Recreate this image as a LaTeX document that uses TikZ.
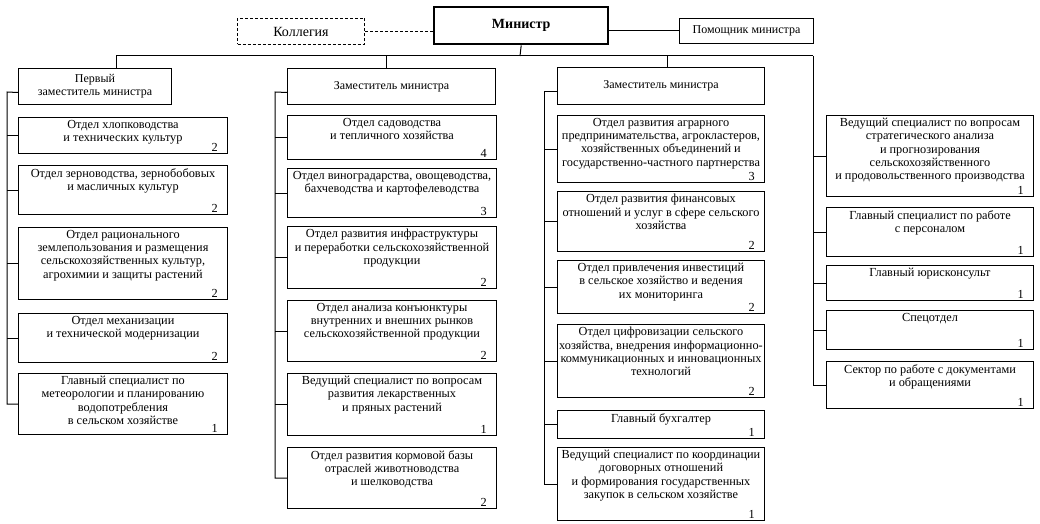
\documentclass[tikz,border=0pt]{standalone}
\usepackage{fontspec}
\setmainfont{Liberation Serif}

\begin{document}
\begin{tikzpicture}[
    x={(1pt,0pt)},
    y={(0pt,-1pt)},
    link/.style={line width=1pt},
    unitbox/.style={
        draw,
        line width=1pt,
        inner sep=0pt,
        anchor=north west
    },
    unittext/.style={
        align=center,
        inner sep=0pt,
        anchor=north,
        font=\fontsize{12.3}{13.3}\selectfont
    },
    unitnum/.style={
        inner sep=0pt,
        anchor=base east,
        font=\fontsize{12.3}{13.3}\selectfont
    },
    headbox/.style={
        unitbox,
        align=center,
        font=\fontsize{12}{13.3}\selectfont
    },
    chief/.style={
        draw,
        line width=2.4pt,
        inner sep=0pt,
        anchor=north west,
        font=\bfseries\fontsize{14}{15}\selectfont
    },
    council/.style={
        draw,
        line width=1pt,
        dashed,
        dash pattern=on 3pt off 2pt,
        inner sep=0pt,
        anchor=north west,
        font=\fontsize{14}{15}\selectfont
    }
]

\useasboundingbox (0,0) rectangle (1040,524);

% =========================================================
% Блок подразделения: имя, x, y, ширина, высота, текст, штат
% =========================================================

\def\ubox#1#2#3#4#5#6#7{%
    \node[unitbox, minimum width=#4, minimum height=#5]
        (#1) at (#2,#3) {};
    \node[unittext] (#1t) at ([yshift=-3pt]#1.north) {#6};
    \node[unitnum] (#1n) at ([xshift=-10pt,yshift=3pt]#1.south east) {#7};
}

% =========================================================
% Министр, коллегия, помощник
% =========================================================

\node[chief, minimum width=174, minimum height=37]
    (min) at (433,6) {Министр};

\node[council, minimum width=127, minimum height=26]
    (kol) at (237,18) {Коллегия};

\node[headbox, minimum width=134, minimum height=25]
    (pom) at (679,18) {Помощник министра};

\draw[link, dashed, dash pattern=on 3pt off 2pt]
    (kol.east) -- (min.west |- kol.east);
\draw[link] (min.east |- pom.west) -- (pom.west);

% =========================================================
% Общая шина
% =========================================================

\coordinate (bus0) at (520,56);
\coordinate (bus1) at (116,56);
\coordinate (bus2) at (386,56);
\coordinate (bus3) at (667,56);
\coordinate (bus4) at (813,56);

\draw[link] (min.south) -- (bus0);
\draw[link] (bus1) -- (bus4);

% =========================================================
% Заместители министра
% =========================================================

\node[headbox, minimum width=153, minimum height=36]
    (h1) at (18,68) {Первый\\заместитель министра};
\node[headbox, minimum width=208, minimum height=36]
    (h2) at (287,68) {Заместитель министра};
\node[headbox, minimum width=207, minimum height=37]
    (h3) at (557,67) {Заместитель министра};

\draw[link] (bus1) -- (bus1 |- h1.north);
\draw[link] (bus2) -- (bus2 |- h2.north);
\draw[link] (bus3) -- (bus3 |- h3.north);

% =========================================================
% Первый заместитель
% =========================================================

\ubox{a1}{18}{117}{209}{36}
    {Отдел хлопководства\\и технических культур}{2}
\ubox{a2}{18}{165}{209}{49}
    {Отдел зерноводства, зернобобовых\\и масличных культур}{2}
\ubox{a3}{18}{227}{209}{72}
    {Отдел рационального\\землепользования и размещения\\
     сельскохозяйственных культур,\\агрохимии и защиты растений}{2}
\ubox{a4}{18}{313}{209}{49}
    {Отдел механизации\\и технической модернизации}{2}
\ubox{a5}{18}{373}{209}{61}
    {Главный специалист по\\метеорологии и планированию\\
     водопотребления\\в сельском хозяйстве}{1}

\coordinate (s1) at (7,92);
\draw[link] ([yshift=-6pt]h1.west) -- (s1) -- (s1 |- a5.west) -- (a5.west);
\foreach \u in {a1,a2,a3,a4}
    \draw[link] (s1 |- \u.west) -- (\u.west);

% =========================================================
% Заместитель министра (второй столбец)
% =========================================================

\ubox{b1}{287}{115}{209}{44}
    {Отдел садоводства\\и тепличного хозяйства}{4}
\ubox{b2}{287}{168}{209}{49}
    {Отдел виноградарства, овощеводства,\\бахчеводства и картофелеводства}{3}
\ubox{b3}{287}{226}{209}{62}
    {Отдел развития инфраструктуры\\и переработки сельскохозяйственной\\
     продукции}{2}
\ubox{b4}{287}{300}{209}{61}
    {Отдел анализа конъюнктуры\\внутренних и внешних рынков\\
     сельскохозяйственной продукции}{2}
\ubox{b5}{287}{373}{209}{62}
    {Ведущий специалист по вопросам\\развития лекарственных\\
     и пряных растений}{1}
\ubox{b6}{287}{447}{209}{61}
    {Отдел развития кормовой базы\\отраслей животноводства\\
     и шелководства}{2}

\coordinate (s2) at (275,92);
\draw[link] ([yshift=-6pt]h2.west) -- (s2) -- (s2 |- b6.west) -- (b6.west);
\foreach \u in {b1,b2,b3,b4,b5}
    \draw[link] (s2 |- \u.west) -- (\u.west);

% =========================================================
% Заместитель министра (третий столбец)
% =========================================================

\ubox{c1}{557}{115}{207}{67}
    {Отдел развития аграрного\\предпринимательства, агрокластеров,\\
     хозяйственных объединений и\\государственно-частного партнерства}{3}
\ubox{c2}{557}{191}{207}{60}
    {Отдел развития финансовых\\отношений и услуг в сфере сельского\\
     хозяйства}{2}
\ubox{c3}{557}{260}{207}{53}
    {Отдел привлечения инвестиций\\в сельское хозяйство и ведения\\
     их мониторинга}{2}
\ubox{c4}{557}{324}{207}{73}
    {Отдел цифровизации сельского\\хозяйства, внедрения информационно-\\
     коммуникационных и инновационных\\технологий}{2}
\ubox{c5}{557}{410}{207}{28}
    {Главный бухгалтер}{1}
\ubox{c6}{557}{447}{207}{73}
    {Ведущий специалист по координации\\договорных отношений\\
     и формирования государственных\\закупок в сельском хозяйстве}{1}

\coordinate (s3) at (544,92);
\draw[link] ([yshift=-6pt]h3.west) -- (s3) -- (s3 |- c6.west) -- (c6.west);
\foreach \u in {c1,c2,c3,c4,c5}
    \draw[link] (s3 |- \u.west) -- (\u.west);

% =========================================================
% Подчинённые непосредственно министру
% =========================================================

\ubox{d1}{826}{115}{207}{81}
    {Ведущий специалист по вопросам\\стратегического анализа\\
     и прогнозирования\\сельскохозяйственного\\
     и продовольственного производства}{1}
\ubox{d2}{826}{207}{207}{49}
    {Главный специалист по работе\\с персоналом}{1}
\ubox{d3}{826}{265}{207}{35}
    {Главный юрисконсульт}{1}
\ubox{d4}{826}{310}{207}{39}
    {Спецотдел}{1}
\ubox{d5}{826}{361}{207}{47}
    {Сектор по работе с документами\\и обращениями}{1}

\draw[link] (bus4) -- (bus4 |- d5.west) -- (d5.west);
\foreach \u in {d1,d2,d3,d4}
    \draw[link] (bus4 |- \u.west) -- (\u.west);

\end{tikzpicture}
\end{document}
